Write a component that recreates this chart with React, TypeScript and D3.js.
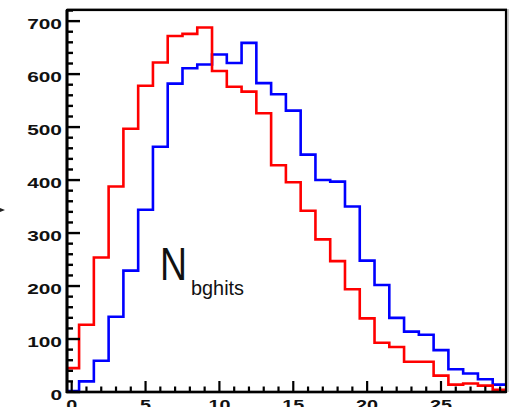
import React, { useRef, useEffect } from "react";
import * as d3 from "d3";

// bin contents, one per integer bin 0..29
const bins = d3.range(0, 30);
const redCounts = [45, 127, 254, 388, 497, 578, 622, 672, 676, 688, 606, 576, 567, 526, 428, 396, 342, 288, 247, 194, 139, 93, 85, 57, 57, 31, 14, 16, 12, 4];
const blueCounts = [2, 20, 59, 142, 229, 344, 463, 582, 611, 618, 637, 621, 659, 583, 562, 531, 448, 400, 397, 350, 248, 202, 140, 114, 108, 79, 43, 35, 24, 14];
const xTickLabels = [0, 5, 10, 15, 20, 25];
const yTickLabels = [0, 100, 200, 300, 400, 500, 600, 700];

const W = 516;
const H = 407;

const App = () => {
  const ref = useRef(null);

  const draw = (elt) => {
    d3.select(elt).selectAll("*").remove();
    const svg = d3.select(elt);

    const x = d3.scaleLinear().domain([-0.25, 29.4]).range([68, 506]);
    const y = d3.scaleLinear().domain([0, 721]).range([392, 10]);
    const [xlo, xhi] = x.domain();

    // step histogram outline
    const stepPts = (counts) =>
      bins.flatMap((b, i) => [
        [Math.max(xlo, b - 0.5), counts[i]],
        [Math.min(xhi, b + 0.5), counts[i]],
      ]);
    const line = d3.line().x((d) => x(d[0])).y((d) => y(d[1]));

    svg.append("path").attr("d", line(stepPts(blueCounts)))
      .attr("fill", "none").attr("stroke", "#0000ff").attr("stroke-width", 2.6);
    svg.append("path").attr("d", line(stepPts(redCounts)))
      .attr("fill", "none").attr("stroke", "#ff0000").attr("stroke-width", 2.6);

    // frame
    svg.append("line").attr("x1", 67).attr("x2", 507).attr("y1", 8.5).attr("y2", 8.5)
      .attr("stroke", "#aaa").attr("stroke-width", 1);
    svg.append("line").attr("x1", 508).attr("x2", 508).attr("y1", 9).attr("y2", 392)
      .attr("stroke", "#999").attr("stroke-width", 1);
    svg.append("rect").attr("x", 67).attr("y", 10).attr("width", 439).attr("height", 382)
      .attr("fill", "none").attr("stroke", "#000").attr("stroke-width", 2.2);
    svg.append("line").attr("x1", 67).attr("x2", 67).attr("y1", 10).attr("y2", 393)
      .attr("stroke", "#000").attr("stroke-width", 3);
    svg.append("line").attr("x1", 66).attr("x2", 506).attr("y1", 392).attr("y2", 392)
      .attr("stroke", "#000").attr("stroke-width", 2.6);

    // y ticks
    const yMinor = d3.range(0, 721, 20);
    svg.selectAll(".ytick").data(yMinor).enter().append("line")
      .attr("x1", 67).attr("x2", (d) => (d % 100 === 0 ? 80 : 73))
      .attr("y1", (d) => y(d)).attr("y2", (d) => y(d))
      .attr("stroke", "#000").attr("stroke-width", 2.4);
    svg.selectAll(".ylab").data(yTickLabels).enter().append("text")
      .attr("x", 62).attr("y", (d) => y(d) + 7.8)
      .attr("text-anchor", "end")
      .attr("textLength", (d) => String(d).length * 11.6)
      .attr("lengthAdjust", "spacingAndGlyphs")
      .style("font-family", "'Liberation Sans', Arial, sans-serif")
      .style("font-weight", "700").style("font-size", "15.5px").style("fill", "#111")
      .text((d) => d);

    // x ticks
    const xMinor = d3.range(0, 30, 1);
    svg.selectAll(".xtick").data(xMinor).enter().append("line")
      .attr("x1", (d) => x(d)).attr("x2", (d) => x(d))
      .attr("y1", 392).attr("y2", (d) => (d % 5 === 0 ? 381 : 386.5))
      .attr("stroke", "#000").attr("stroke-width", 2.2);
    svg.selectAll(".xlab").data(xTickLabels).enter().append("text")
      .attr("x", (d) => x(d) - (String(d).length * 11) / 2).attr("y", 410)
      .attr("textLength", (d) => String(d).length * 11)
      .attr("lengthAdjust", "spacingAndGlyphs")
      .style("font-family", "'Liberation Sans', Arial, sans-serif")
      .style("font-weight", "700").style("font-size", "15.5px").style("fill", "#111")
      .text((d) => d);

    // variable name
    svg.append("text").attr("x", 160).attr("y", 280)
      .attr("textLength", 27).attr("lengthAdjust", "spacingAndGlyphs")
      .style("font-family", "'Liberation Sans', Arial, sans-serif")
      .style("font-size", "46px").style("fill", "#111").text("N");
    svg.append("text").attr("x", 191).attr("y", 295)
      .attr("textLength", 53).attr("lengthAdjust", "spacingAndGlyphs")
      .style("font-family", "'Liberation Sans', Arial, sans-serif")
      .style("font-size", "21px").style("fill", "#111").text("bghits");

    // stray arrow tip at left edge
    svg.append("path").attr("d", "M0,208 L5,210 L0,212 Z").attr("fill", "#222");
  };

  useEffect(() => {
    if (ref.current) draw(ref.current);
  }, []);

  return (
    <svg ref={ref} width={W} height={H} viewBox={`0 0 ${W} ${H}`}
      style={{ position: "fixed", left: 0, top: 0, background: "#fff" }} />
  );
};

export default App;
